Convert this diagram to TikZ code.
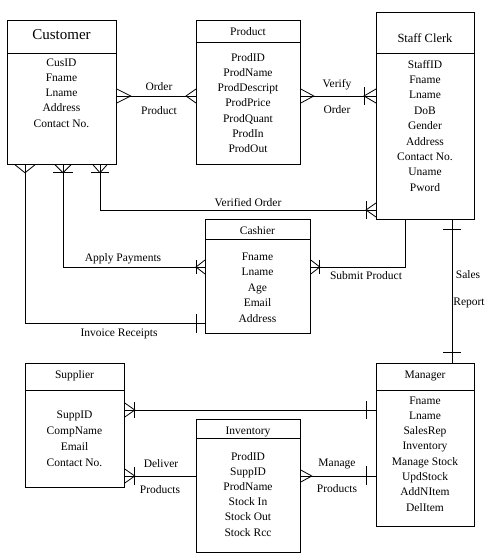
\documentclass[tikz,border=0pt]{standalone}
\usepackage{fontspec}
\setmainfont{Liberation Serif}
\begin{document}
\begin{tikzpicture}[x=1pt,y=-1pt,
  box/.style={draw, line width=0.8pt, inner sep=0pt, anchor=north west},
  attr/.style={font=\fontsize{11.5}{13}\selectfont, anchor=base, inner sep=0pt},
  conn/.style={line width=0.8pt}]
\useasboundingbox (0,0) rectangle (493,558);

% ---------- entities ----------
\node[box, minimum width=109pt, minimum height=144pt] (cust) at (7,20) {};
\draw[conn] ([yshift=-33pt]cust.north west) -- ([yshift=-33pt]cust.north east);
\node[attr, font=\fontsize{15}{17}\selectfont] (custt) at (61.5,39) {Customer};
\foreach \t [count=\i from 0] in {CusID,Fname,Lname,Address,Contact No.}
  \node[attr] (cu\i) at (61.5,{66+15.25*\i}) {\t};

\node[box, minimum width=104pt, minimum height=144pt] (prod) at (196,20) {};
\draw[conn] ([yshift=-22pt]prod.north west) -- ([yshift=-22pt]prod.north east);
\node[attr] (prodt) at (248,35) {Product};
\foreach \t [count=\i from 0] in {ProdID,ProdName,ProdDescript,ProdPrice,ProdQuant,ProdIn,ProdOut}
  \node[attr] (pr\i) at (248,{61+15.3*\i}) {\t};

\node[box, minimum width=98pt, minimum height=207pt] (staff) at (376,12) {};
\draw[conn] ([yshift=-41pt]staff.north west) -- ([yshift=-41pt]staff.north east);
\node[attr, font=\fontsize{12.5}{14}\selectfont] (stafft) at (425,42.5) {Staff Clerk};
\foreach \t [count=\i from 0] in {StaffID,Fname,Lname,DoB,Gender,Address,Contact No.,Uname,Pword}
  \node[attr] (st\i) at (425,{68+15.4*\i}) {\t};

\node[box, minimum width=105pt, minimum height=114pt] (cash) at (205,219) {};
\draw[conn] ([yshift=-20pt]cash.north west) -- ([yshift=-20pt]cash.north east);
\node[attr] (casht) at (257.5,234) {Cashier};
\foreach \t [count=\i from 0] in {Fname,Lname,Age,Email,Address}
  \node[attr] (ca\i) at (257.5,{260+15.5*\i}) {\t};

\node[box, minimum width=99pt, minimum height=124pt] (supp) at (25,363) {};
\draw[conn] ([yshift=-27pt]supp.north west) -- ([yshift=-27pt]supp.north east);
\node[attr] (suppt) at (74.5,378) {Supplier};
\foreach \t [count=\i from 0] in {SuppID,CompName,Email,Contact No.}
  \node[attr] (su\i) at (74.5,{418+16.3*\i}) {\t};

\node[box, minimum width=98pt, minimum height=163pt] (mgr) at (376,363) {};
\draw[conn] ([yshift=-27pt]mgr.north west) -- ([yshift=-27pt]mgr.north east);
\node[attr] (mgrt) at (425,378) {Manager};
\foreach \t [count=\i from 0] in {Fname,Lname,SalesRep,Inventory,Manage Stock,UpdStock,AddNItem,DelItem}
  \node[attr] (mg\i) at (425,{404+15.3*\i}) {\t};

\node[box, minimum width=104pt, minimum height=133pt] (inv) at (196,419) {};
\draw[conn] ([yshift=-19pt]inv.north west) -- ([yshift=-19pt]inv.north east);
\node[attr] (invt) at (248,434) {Inventory};
\foreach \t [count=\i from 0] in {ProdID,SuppID,ProdName,Stock In,Stock Out,Stock Rcc}
  \node[attr] (in\i) at (248,{460+15.2*\i}) {\t};

% ---------- helper coordinates ----------
\coordinate (h1) at (0,96);
\coordinate (vo) at (100,210);
\coordinate (ap) at (63,267);
\coordinate (ir) at (25,323);
\coordinate (sp) at (405,267);
\coordinate (sr) at (452,0);
\coordinate (sm) at (0,410);
\coordinate (dp) at (0,476);

% ---------- Order Product ----------
\draw[conn] (cust.east |- h1) -- (prod.west |- h1);
\draw[conn] (cust.east |- h1) ++(0,-7) -- ++(14,7) -- ++(-14,7);
\draw[conn] (prod.west |- h1) ++(0,-7) -- ++(-10,7) -- ++(10,7);
\node[attr] (l1) at (159,90) {Order};
\node[attr] (l2) at (159,114) {Product};

% ---------- Verify Order ----------
\draw[conn] (prod.east |- h1) -- (staff.west |- h1);
\draw[conn] (prod.east |- h1) ++(0,-7) -- ++(13,7) -- ++(-13,7);
\draw[conn] (staff.west |- h1) ++(0,-7) -- ++(-12,7) -- ++(12,7);
\draw[conn] (staff.west |- h1) ++(-12,-9) -- ++(0,18);
\node[attr] (l3) at (337,87) {Verify};
\node[attr] (l4) at (337,113) {Order};

% ---------- Verified Order ----------
\draw[conn] (cust.south -| vo) |- (staff.west |- vo);
\draw[conn] (cust.south -| vo) ++(-7,0) -- ++(7,8) -- ++(7,-8);
\draw[conn] (cust.south -| vo) ++(-9,8) -- ++(18,0);
\draw[conn] (staff.west |- vo) ++(0,-7) -- ++(-10,7) -- ++(10,7);
\draw[conn] (staff.west |- vo) ++(-10,-9) -- ++(0,18);
\node[attr] (l5) at (248,206) {Verified Order};

% ---------- Apply Payments ----------
\draw[conn] (cust.south -| ap) |- (cash.west |- ap);
\draw[conn] (cust.south -| ap) ++(-8,0) -- ++(8,8) -- ++(8,-8);
\draw[conn] (cust.south -| ap) ++(-10,8) -- ++(20,0);
\draw[conn] (cash.west |- ap) ++(0,-7) -- ++(-9,7) -- ++(9,7);
\draw[conn] (cash.west |- ap) ++(-9,-7) -- ++(0,14);
\node[attr] (l6) at (123,261) {Apply Payments};

% ---------- Invoice Receipts ----------
\draw[conn] (cust.south -| ir) |- (cash.west |- ir);
\draw[conn] (cust.south -| ir) ++(-10,0) -- ++(10,8) -- ++(10,-8);
\draw[conn] (cash.west |- ir) ++(-9,-9) -- ++(0,19);
\node[attr] (l7) at (119,336) {Invoice Receipts};

% ---------- Submit Product ----------
\draw[conn] (cash.east |- sp) -| (staff.south -| sp);
\draw[conn] (cash.east |- sp) ++(0,-7) -- ++(9,7) -- ++(-9,7);
\draw[conn] (cash.east |- sp) ++(9,-7) -- ++(0,14);
\node[attr] (l8) at (366,279) {Submit Product};

% ---------- Sales Report ----------
\draw[conn] (staff.south -| sr) -- (mgr.north -| sr);
\draw[conn] (staff.south -| sr) ++(-9,10) -- ++(18,0);
\draw[conn] (mgr.north -| sr) ++(-9,-11) -- ++(18,0);
\node[attr] (l9) at (468,278) {Sales};
\node[attr] (l10) at (469,305) {Report};

% ---------- Supplier - Manager ----------
\draw[conn] (supp.east |- sm) -- (mgr.west |- sm);
\draw[conn] (supp.east |- sm) ++(0,-7) -- ++(10,7) -- ++(-10,7);
\draw[conn] (supp.east |- sm) ++(10,-8) -- ++(0,16);
\draw[conn] (mgr.west |- sm) ++(-10,-9) -- ++(0,18);

% ---------- Deliver Products ----------
\draw[conn] (supp.east |- dp) -- (inv.west |- dp);
\draw[conn] (supp.east |- dp) ++(0,-7) -- ++(10,7) -- ++(-10,7);
\draw[conn] (supp.east |- dp) ++(10,-9) -- ++(0,18);
\node[attr] (l11) at (161,467) {Deliver};
\node[attr] (l12) at (160,493) {Products};

% ---------- Manage Products ----------
\draw[conn] (inv.east |- dp) -- (mgr.west |- dp);
\draw[conn] (inv.east |- dp) ++(0,-6) -- ++(11,6) -- ++(-11,6);
\draw[conn] (mgr.west |- dp) ++(-10,-10) -- ++(0,19);
\node[attr] (l13) at (337,466) {Manage};
\node[attr] (l14) at (337,492) {Products};
\end{tikzpicture}
\end{document}
